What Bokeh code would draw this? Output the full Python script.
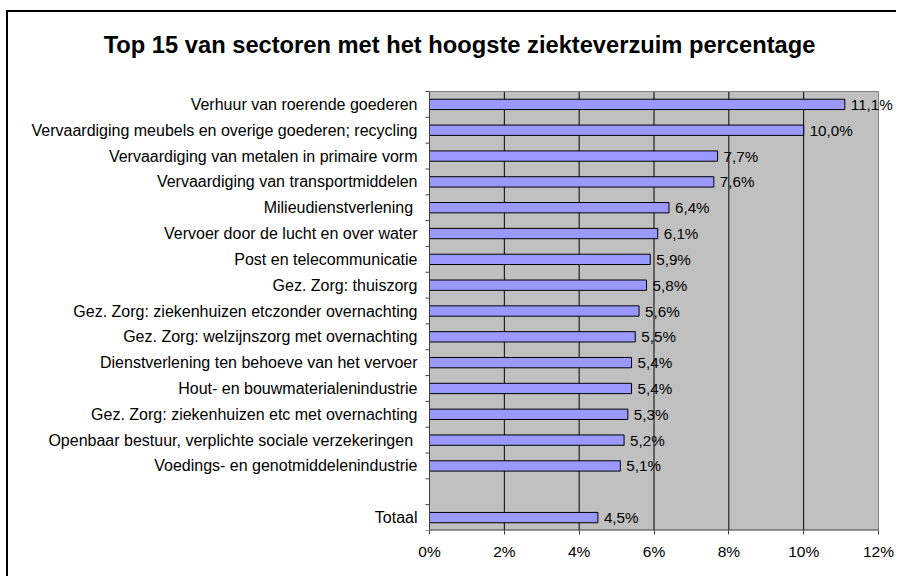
import math
from bokeh.plotting import figure
from bokeh.models import ColumnDataSource, FixedTicker, Range1d
from bokeh.core.properties import value
from bokeh.embed import file_html
from bokeh.resources import INLINE

title_text = "Top 15 van sectoren met het hoogste ziekteverzuim percentage"
sectors = [
    "Verhuur van roerende goederen",
    "Vervaardiging meubels en overige goederen; recycling",
    "Vervaardiging van metalen in primaire vorm",
    "Vervaardiging van transportmiddelen",
    "Milieudienstverlening ",
    "Vervoer door de lucht en over water",
    "Post en telecommunicatie",
    "Gez. Zorg: thuiszorg",
    "Gez. Zorg: ziekenhuizen etczonder overnachting",
    "Gez. Zorg: welzijnszorg met overnachting",
    "Dienstverlening ten behoeve van het vervoer",
    "Hout- en bouwmaterialenindustrie",
    "Gez. Zorg: ziekenhuizen etc met overnachting",
    "Openbaar bestuur, verplichte sociale verzekeringen ",
    "Voedings- en genotmiddelenindustrie",
]
values = [11.1, 10.0, 7.7, 7.6, 6.4, 6.1, 5.9, 5.8, 5.6, 5.5, 5.4, 5.4, 5.3, 5.2, 5.1]
total_label = "Totaal"
total_value = 4.5
x_ticks = [0, 2, 4, 6, 8, 10, 12]

FONT = "Liberation Sans"
AXIS_COLOR = "#404040"

cats = sectors + [total_label]
vals = values + [total_value]
ys = list(range(len(sectors))) + [len(sectors) + 1]
labels = [("%.1f" % v).replace(".", ",") + "%" for v in vals]
x_max = x_ticks[-1]

src = ColumnDataSource(dict(y=ys, v=vals, lab=labels, cat=cats))

# layout (canvas pixels)
W, H = 890, 566
PA_LEFT, PA_RIGHT, PA_TOP, PA_BOTTOM = 421, 870, 79, 518
ppu = (PA_RIGHT - PA_LEFT) / x_max
y_lo, y_hi = -0.5, len(cats) + 0.5
slot = (PA_BOTTOM - PA_TOP) / (y_hi - y_lo)

x_start = -PA_LEFT / ppu
x_end = (W - PA_LEFT) / ppu
y_top = y_lo - PA_TOP / slot

p = figure(width=W, height=H, output_backend="svg", toolbar_location=None,
           x_range=Range1d(x_start, x_end), y_range=Range1d(y_hi, y_top),
           y_axis_location=None,
           min_border_left=0, min_border_right=0,
           min_border_top=0, min_border_bottom=H - PA_BOTTOM)
p.styles = {"border-top": "2px solid black", "border-left": "2px solid black",
            "border-right": "0px none white", "border-bottom": "0px none white",
            "outline": "none", "box-shadow": "none",
            "margin-left": "6px", "margin-top": "10px"}

p.background_fill_color = "white"
p.border_fill_color = "white"
p.outline_line_color = None
p.xgrid.visible = False
p.ygrid.visible = False

# plot area background
p.quad(left=[0], right=[x_max], bottom=[y_hi], top=[y_lo],
       fill_color="#C0C0C0", line_color=None)

# vertical grid lines
grid_x = x_ticks[1:-1]
p.segment(x0=grid_x, x1=grid_x, y0=[y_lo] * len(grid_x), y1=[y_hi] * len(grid_x),
          line_color="black", line_width=1)
# plot-area border (right/top)
p.segment(x0=[x_max], x1=[x_max], y0=[y_lo], y1=[y_hi], line_color="#808080", line_width=1)
p.segment(x0=[0], x1=[x_max], y0=[y_lo], y1=[y_lo], line_color="#808080", line_width=1)

# bars
p.hbar(y="y", right="v", left=0, height=0.4, source=src,
       fill_color="#9999FF", line_color="black", line_width=1)

# axis lines
p.segment(x0=[0], x1=[x_max], y0=[y_hi], y1=[y_hi], line_color=AXIS_COLOR, line_width=2)
p.segment(x0=[0], x1=[0], y0=[y_lo], y1=[y_hi], line_color=AXIS_COLOR, line_width=1)

# category-axis ticks between categories
bounds = [i - 0.5 for i in range(len(cats) + 2)]
p.ray(x=[0] * len(bounds), y=bounds, length=4, length_units="screen",
      angle=math.pi, line_color=AXIS_COLOR, line_width=1)

# category labels
p.text(x=0, y="y", text="cat", source=src, x_offset=-12,
       text_font=value(FONT), text_font_size="16px", text_color="black",
       text_baseline="middle", text_align="right")

# value labels
p.text(x="v", y="y", text="lab", source=src, x_offset=6,
       text_font=value(FONT), text_font_size="15.2px", text_color="black",
       text_baseline="middle", text_align="left")

# title
p.text(x=[(451 - PA_LEFT) / ppu], y=[y_lo - (PA_TOP - 32) / slot], text=[title_text],
       text_font=value(FONT), text_font_size="23.7px", text_font_style="bold",
       text_color="black", text_align="center", text_baseline="middle")

# value axis
p.xaxis.ticker = FixedTicker(ticks=x_ticks)
p.xaxis.major_label_overrides = {t: "%d%%" % t for t in x_ticks}
p.xaxis.major_tick_out = 4
p.xaxis.major_tick_in = 0
p.xaxis.minor_tick_line_color = None
p.xaxis.axis_line_color = None
p.xaxis.major_tick_line_color = AXIS_COLOR
p.xaxis.major_label_text_font = FONT
p.xaxis.major_label_text_font_size = "15.5px"
p.xaxis.major_label_text_color = "black"
p.xaxis.major_label_standoff = 8

open("out.html", "w").write(file_html(p, INLINE))
